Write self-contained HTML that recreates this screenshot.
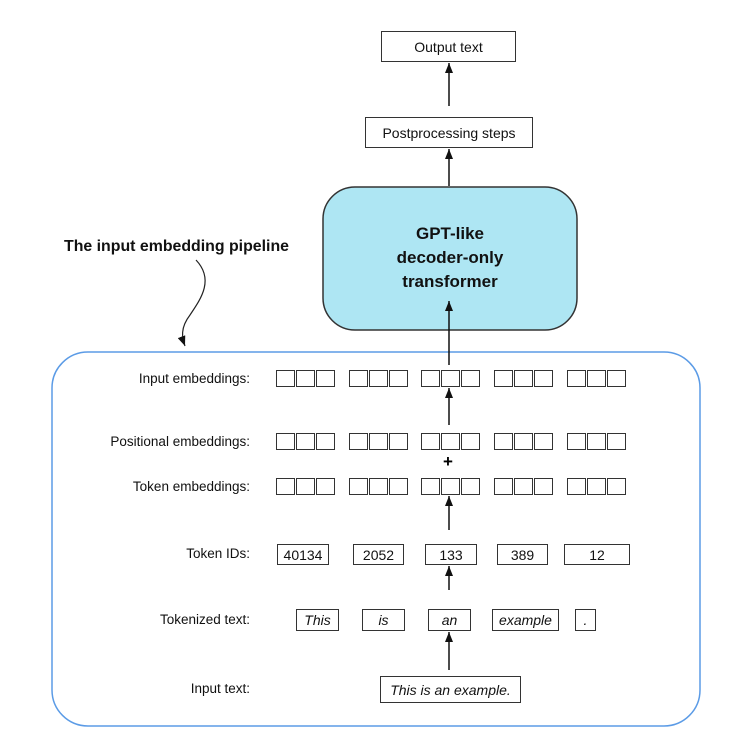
<!DOCTYPE html>
<html><head><style>
body{margin:0;width:747px;height:734px;background:#fff;position:relative;font-family:"Liberation Sans",sans-serif;overflow:hidden}
.b{position:absolute;border:1.3px solid #333;box-sizing:border-box;display:flex;align-items:center;justify-content:center;font-size:14px;color:#111;background:#fff}
.l{position:absolute;right:497px;font-size:13.5px;color:#111;white-space:nowrap}
.i{font-style:italic}
</style></head><body>
<svg width="747" height="734" style="position:absolute;left:0;top:0">
<defs><marker id="a" markerWidth="10" markerHeight="8" refX="10" refY="4" orient="auto" markerUnits="userSpaceOnUse"><path d="M0,0 L10,4 L0,8 Z" fill="#111"/></marker></defs>
<rect x="52" y="352" width="648" height="374" rx="36" fill="none" stroke="#5b9be6" stroke-width="1.5"/>
<rect x="323" y="187" width="254" height="143" rx="32" fill="#aee6f3" stroke="#333" stroke-width="1.5"/>
<g stroke="#111" stroke-width="1.5" marker-end="url(#a)">
<line x1="449" y1="106" x2="449" y2="63"/>
<line x1="449" y1="186" x2="449" y2="149"/>
<line x1="449" y1="365" x2="449" y2="301"/>
<line x1="449" y1="425" x2="449" y2="388"/>
<line x1="449" y1="530" x2="449" y2="496"/>
<line x1="449" y1="590" x2="449" y2="566"/>
<line x1="449" y1="670" x2="449" y2="632"/>
</g>
<path d="M196,260 C215,280 200,300 190,315 C180,328 182,338 185,346" fill="none" stroke="#222" stroke-width="1.2" marker-end="url(#a)"/>
<g font-family="Liberation Sans" font-weight="bold" font-size="17" fill="#111" text-anchor="middle">
<text x="450" y="239">GPT-like</text><text x="450" y="263">decoder-only</text><text x="450" y="287">transformer</text>
</g>
<text x="64" y="251" font-family="Liberation Sans" font-weight="bold" font-size="16" fill="#111" textLength="225" lengthAdjust="spacingAndGlyphs">The input embedding pipeline</text>
</svg>
<div class="b" style="left:381px;top:31px;width:135px;height:31px">Output text</div>
<div class="b" style="left:365px;top:117px;width:168px;height:31px">Postprocessing steps</div>
<div class="l" style="top:371px">Input embeddings:</div>
<div class="l" style="top:434px">Positional embeddings:</div>
<div class="l" style="top:479px">Token embeddings:</div>
<div class="l" style="top:546px">Token IDs:</div>
<div class="l" style="top:612px">Tokenized text:</div>
<div class="l" style="top:681px">Input text:</div>
<div id="e"></div>
<div style="position:absolute;left:443px;top:452px;font-size:17px;font-weight:bold">+</div>
<div class="b" style="left:277px;top:544px;width:52px;height:21px">40134</div>
<div class="b" style="left:353px;top:544px;width:51px;height:21px">2052</div>
<div class="b" style="left:425px;top:544px;width:52px;height:21px">133</div>
<div class="b" style="left:497px;top:544px;width:51px;height:21px">389</div>
<div class="b" style="left:564px;top:544px;width:66px;height:21px">12</div>
<div class="b i" style="left:296px;top:609px;width:43px;height:22px">This</div>
<div class="b i" style="left:362px;top:609px;width:43px;height:22px">is</div>
<div class="b i" style="left:428px;top:609px;width:43px;height:22px">an</div>
<div class="b i" style="left:492px;top:609px;width:67px;height:22px">example</div>
<div class="b i" style="left:575px;top:609px;width:21px;height:22px">.</div>
<div class="b i" style="left:380px;top:676px;width:141px;height:27px">This is an example.</div>
<script>
var xs=[276,349,421,494,567],ys=[370,433,478],h='';
ys.forEach(function(y){xs.forEach(function(x){for(var k=0;k<3;k++)h+='<div style="position:absolute;left:'+(x+k*20)+'px;top:'+y+'px;width:19px;height:17px;border:1.5px solid #333;box-sizing:border-box;background:#fff"></div>';});});
document.getElementById('e').innerHTML=h;
</script>
</body></html>
